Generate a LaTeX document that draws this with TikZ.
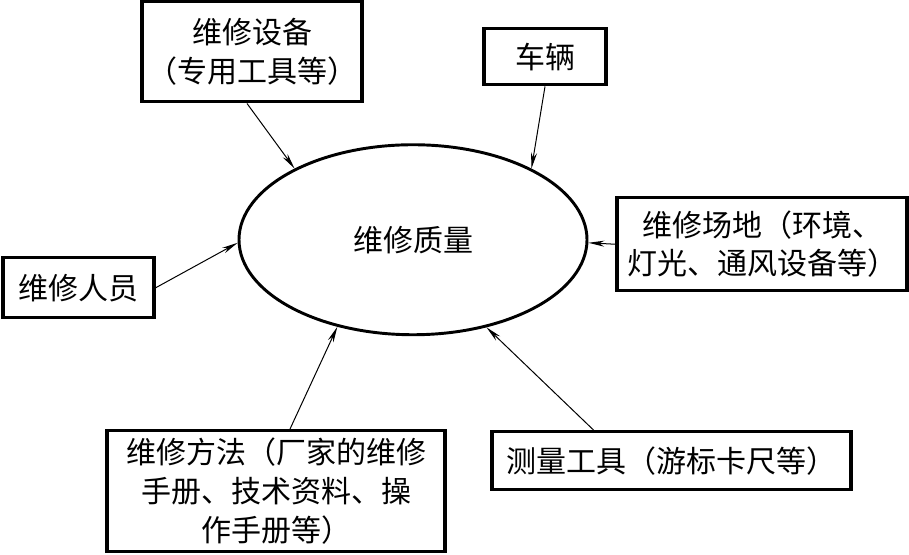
\documentclass[tikz,border=0pt]{standalone}
\usepackage{fontspec}
\newfontfamily\cjk{Noto Sans CJK SC}
\usetikzlibrary{shapes.geometric,arrows.meta}

\tikzset{every picture/.style={line width=0.75pt}}
\tikzset{
  factorbox/.style={draw,line width=2.6pt,align=center,inner sep=0pt,
    font=\cjk\fontsize{22.5}{29}\selectfont},
  feed/.style={-{Stealth[length=12pt,width=4.5pt]},line width=0.75pt}
}

\begin{document}
\begin{tikzpicture}[x=0.75pt,y=0.75pt,yscale=-1,xscale=1]
	\path (0,0) rectangle (909,553); %fixed frame of the diagram

	%Shape: Ellipse [id:quality]
	\node [draw,ellipse,line width=2.2pt,minimum width=261pt,minimum height=142.5pt,inner sep=0pt,font=\cjk\fontsize{22.5}{29}\selectfont] (quality) at (413,238) {维修质量};

	% Text Node
	\node [factorbox,minimum width=165pt,minimum height=75pt] (equip) at (252,50) {维修设备\\（专用工具等）};
	% Text Node
	\node [factorbox,minimum width=91.5pt,minimum height=42pt] (vehicle) at (545,55) {车辆};
	% Text Node
	\node [factorbox,minimum width=217.5pt,minimum height=69.75pt] (site) at (762,242.5) {维修场地（环境、\\灯光、通风设备等）};
	% Text Node
	\node [factorbox,minimum width=113.25pt,minimum height=45pt] (staff) at (78.5,286) {维修人员};
	% Text Node
	\node [factorbox,minimum width=253.5pt,minimum height=90.75pt] (method) at (276,489.5) {维修方法（厂家的维修\\手册、技术资料、操\\作手册等）};
	% Text Node
	\node [factorbox,minimum width=269.25pt,minimum height=43.5pt] (measure) at (671.5,459) {测量工具（游标卡尺等）};

	%Straight Lines [id:arrows]
	\draw [feed] ([xshift=-3.75pt]equip.south) -- (quality.149);
	\draw [feed] (vehicle.south) -- (quality.31);
	\draw [feed] (site.west) -- (quality.-1.3);
	\draw [feed] (staff.east) -- (quality.181.3);
	\draw [feed] ([xshift=10.5pt]method.north) -- (quality.229.4);
	\draw [feed] ([xshift=-58.5pt]measure.north) -- (quality.310.9);

\end{tikzpicture}
\end{document}
